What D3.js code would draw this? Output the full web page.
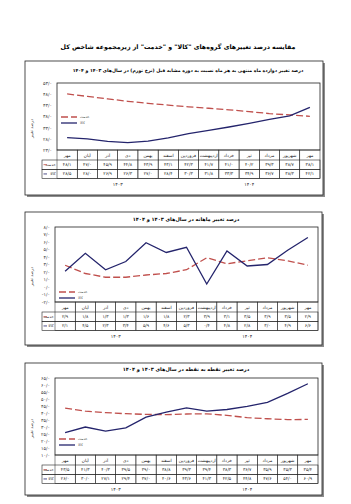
<!DOCTYPE html>
<html>
<head>
<meta charset="utf-8">
<script src="https://cdn.jsdelivr.net/npm/d3@7"></script>
<style>
  body { margin: 0; background: #fff; }
  svg { display: block; font-family: "DejaVu Sans", sans-serif; }
</style>
</head>
<body>
<svg id="page" width="351" height="504"></svg>
<script>
// months, Mehr 1403 -> Mehr 1404 (left to right)
const months = ['مهر', 'آبان', 'آذر', 'دی', 'بهمن', 'اسفند', 'فروردین', 'اردیبهشت', 'خرداد', 'تیر', 'مرداد', 'شهریور', 'مهر'];
const years = ['۱۴۰۳', '۱۴۰۴'];
const yearSpans = [[0, 5], [6, 12]];

// twelve-month (inflation rate)
const services12 = [48.1, 47.0, 45.9, 44.8, 43.9, 43.1, 42.3, 41.7, 41.0, 40.2, 39.3, 38.7, 38.1];
const goods12 = [28.5, 28.0, 26.9, 26.3, 27.0, 28.4, 30.3, 31.8, 33.3, 34.9, 36.7, 38.3, 42.1];
const ticks12 = [23, 28, 33, 38, 43, 48, 53];

// monthly change
const servicesMonthly = [2.9, 1.8, 1.3, 1.3, 1.6, 1.8, 2.3, 3.9, 3.1, 3.5, 3.9, 3.5, 2.9];
const goodsMonthly = [2.1, 4.5, 2.3, 3.4, 5.9, 4.6, 5.3, 0.4, 4.8, 2.8, 3.0, 4.9, 6.6];
const ticksMonthly = [-2, -1, 0, 1, 2, 3, 4, 5, 6, 7, 8];

// point to point
const servicesP2P = [43.5, 41.3, 40.3, 39.5, 39.0, 38.8, 39.3, 39.4, 38.3, 36.7, 35.9, 35.3, 35.4];
const goodsP2P = [26.0, 30.0, 27.1, 29.4, 37.0, 40.6, 43.6, 41.3, 42.5, 44.8, 47.6, 54.0, 60.9];
const ticksP2P = [10, 15, 20, 25, 30, 35, 40, 45, 50, 55, 60, 65];

const seriesNames = ['خدمت', 'کالا'];
const colService = '#c0504d';
const colGoods = '#24246c';

const faDigits = '۰۱۲۳۴۵۶۷۸۹';
const fa = s => String(s).replace(/\d/g, d => faDigits[d]);
const fmt = v => (v < 0 ? '-' : '') + fa(Math.abs(v).toFixed(1).replace('.', '/'));

const svg = d3.select('#page');

svg.append('text')
    .attr('x', 178).attr('y', 49)
    .attr('text-anchor', 'middle')
    .attr('direction', 'rtl')
    .attr('font-size', 6.3)
    .attr('font-weight', 'bold')
    .text('مقایسه درصد تغییرهای گروه‌های "کالا" و "خدمت" از زیرمجموعه شاخص کل');

const drawChart = cfg => {
    const g = svg.append('g');
    const [bx, by, bw, bh] = cfg.box;

    g.append('rect')
        .attr('x', bx + 2).attr('y', by + 2)
        .attr('width', bw).attr('height', bh)
        .attr('fill', '#8c8c8c');
    g.append('rect')
        .attr('x', bx).attr('y', by)
        .attr('width', bw).attr('height', bh)
        .attr('fill', '#fff')
        .attr('stroke', '#222')
        .attr('stroke-width', 0.8);

    g.append('text')
        .attr('x', cfg.titleX).attr('y', by + cfg.titleDy)
        .attr('text-anchor', 'middle')
        .attr('direction', 'rtl')
        .attr('font-size', cfg.titleSize)
        .attr('font-weight', 'bold')
        .text(cfg.title);

    const p = cfg.plot;
    const x = d3.scaleBand()
                .domain(d3.range(months.length))
                .range([p.left, p.right]);
    const cx = i => x(i) + x.bandwidth() / 2;
    const y = d3.scaleLinear()
                .domain(d3.extent(cfg.ticks))
                .range([p.bottom, p.top]);

    g.append('rect')
        .attr('x', p.left).attr('y', p.top)
        .attr('width', p.right - p.left).attr('height', p.bottom - p.top)
        .attr('fill', 'none')
        .attr('stroke', '#222')
        .attr('stroke-width', 0.8);

    const axis = g.append('g')
        .attr('transform', `translate(${p.left - 2},0)`)
        .call(d3.axisLeft(y).tickValues(cfg.ticks).tickSize(0).tickFormat(fmt));
    axis.select('.domain').remove();
    axis.selectAll('text')
        .attr('font-size', 4.6)
        .attr('font-family', '"DejaVu Sans", sans-serif')
        .attr('fill', '#333');

    g.append('text')
        .attr('transform', `translate(${bx + 8},${(p.top + p.bottom) / 2 + 12}) rotate(-90)`)
        .attr('text-anchor', 'middle')
        .attr('font-size', 4.2)
        .attr('fill', '#444')
        .text('درصد تغییر');

    const line = d3.line().x((d, i) => cx(i)).y(d => y(d));

    g.append('path')
        .datum(cfg.services)
        .attr('d', line)
        .attr('fill', 'none')
        .attr('stroke', colService)
        .attr('stroke-width', 1.3)
        .attr('stroke-dasharray', '7,3');
    g.append('path')
        .datum(cfg.goods)
        .attr('d', line)
        .attr('fill', 'none')
        .attr('stroke', colGoods)
        .attr('stroke-width', 1.3);

    // legend
    const lg = g.append('g').attr('transform', `translate(${p.left + 4},${cfg.legendY})`);
    [[colService, '7,3'], [colGoods, null]].forEach((s, k) => {
        lg.append('line')
            .attr('x1', 0).attr('x2', 16)
            .attr('y1', k * 6).attr('y2', k * 6)
            .attr('stroke', s[0])
            .attr('stroke-width', 1.3)
            .attr('stroke-dasharray', s[1]);
        lg.append('text')
            .attr('x', 19).attr('y', k * 6 + 1.4)
            .attr('font-size', 3.6)
            .attr('fill', '#444')
            .text(seriesNames[k]);
    });

    // data table
    const tTop = p.bottom;
    const hH = 10, rH = 9.3;
    const tLeft = 42;
    const tg = g.append('g')
        .attr('font-size', 4.4)
        .attr('fill', '#222');

    months.forEach((m, i) => {
        tg.append('rect')
            .attr('x', x(i)).attr('y', tTop)
            .attr('width', x.bandwidth()).attr('height', hH + rH * 2)
            .attr('fill', 'none')
            .attr('stroke', '#222')
            .attr('stroke-width', 0.5);
        tg.append('text')
            .attr('x', cx(i)).attr('y', tTop + hH / 2 + 1.5)
            .attr('text-anchor', 'middle')
            .text(m);
    });
    [cfg.services, cfg.goods].forEach((vals, r) => {
        const ry = tTop + hH + r * rH;
        tg.append('rect')
            .attr('x', tLeft).attr('y', ry)
            .attr('width', p.right - tLeft).attr('height', rH)
            .attr('fill', 'none')
            .attr('stroke', '#222')
            .attr('stroke-width', 0.6);
        tg.append('line')
            .attr('x1', tLeft + 1.5).attr('x2', tLeft + 5)
            .attr('y1', ry + rH / 2).attr('y2', ry + rH / 2)
            .attr('stroke', r === 0 ? colService : colGoods)
            .attr('stroke-width', 0.8);
        tg.append('text')
            .attr('x', p.left - 1.5).attr('y', ry + rH / 2 + 1.4)
            .attr('text-anchor', 'end')
            .attr('font-size', 3.8)
            .text(seriesNames[r]);
        vals.forEach((v, i) => {
            tg.append('text')
                .attr('x', cx(i)).attr('y', ry + rH / 2 + 1.5)
                .attr('text-anchor', 'middle')
                .text(fmt(v));
        });
    });

    years.forEach((yr, k) => {
        const [a, b] = yearSpans[k];
        tg.append('text')
            .attr('x', (cx(a) + cx(b)) / 2)
            .attr('y', tTop + hH + rH * 2 + 7)
            .attr('text-anchor', 'middle')
            .attr('font-size', 4.6)
            .text(yr);
    });
};

drawChart({
    box: [25, 61, 298, 134],
    title: 'درصد تغییر دوازده ماه منتهی به هر ماه نسبت به دوره مشابه قبل (نرخ تورم) در سال‌های ۱۴۰۳ و ۱۴۰۴',
    titleX: 188, titleDy: 10.5, titleSize: 4.6,
    plot: { left: 57, right: 320, top: 83, bottom: 150 },
    ticks: ticks12,
    services: services12,
    goods: goods12,
    legendY: 117
});

drawChart({
    box: [25, 212, 297, 133],
    title: 'درصد تغییر ماهانه در سال‌های ۱۴۰۳ و ۱۴۰۴',
    titleX: 186, titleDy: 9, titleSize: 5,
    plot: { left: 55, right: 318, top: 227, bottom: 302 },
    ticks: ticksMonthly,
    services: servicesMonthly,
    goods: goodsMonthly,
    legendY: 292
});

drawChart({
    box: [25, 363, 297, 132],
    title: 'درصد تغییر نقطه به نقطه در سال‌های ۱۴۰۳ و ۱۴۰۴',
    titleX: 186, titleDy: 8, titleSize: 5,
    plot: { left: 55, right: 318, top: 378, bottom: 455 },
    ticks: ticksP2P,
    services: servicesP2P,
    goods: goodsP2P,
    legendY: 439
});
</script>
</body>
</html>
